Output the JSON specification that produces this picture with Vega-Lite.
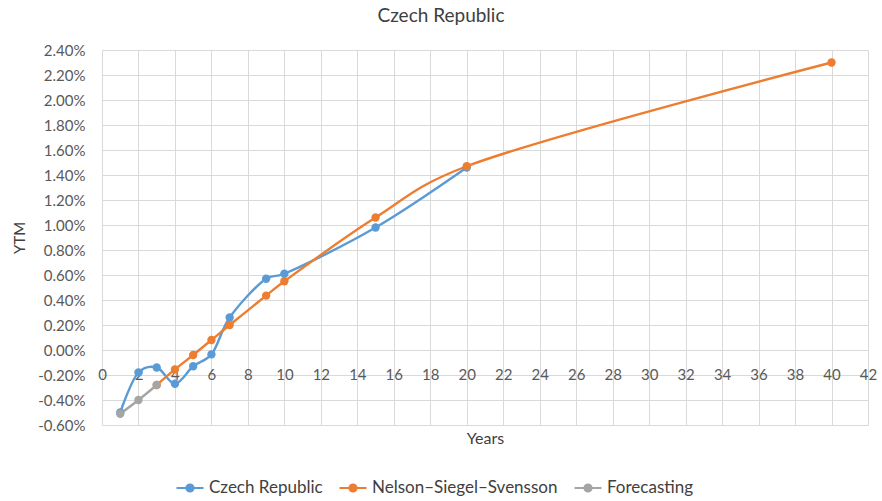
{
  "$schema": "https://vega.github.io/schema/vega-lite/v6.json",
  "width": 766,
  "height": 375,
  "autosize": "none",
  "padding": {"left": 102, "top": 50, "right": 14, "bottom": 76},
  "background": "white",
  "title": {"text": "Czech Republic", "anchor": "middle", "dx": -44, "offset": 17, "fontSize": 19, "fontWeight": "normal", "color": "#404040", "font": "Lato"},
  "config": {
    "view": {"stroke": null},
    "font": "Lato",
    "axis": {"labelFont": "Lato", "titleFont": "Lato", "labelColor": "#595959", "titleColor": "#404040", "gridColor": "#d9d9d9", "gridWidth": 1}
  },
  "data": {"values": [
    {"series": "Czech Republic", "years": 1, "ytm": -0.0050},
    {"series": "Czech Republic", "years": 2, "ytm": -0.0018},
    {"series": "Czech Republic", "years": 3, "ytm": -0.0014},
    {"series": "Czech Republic", "years": 4, "ytm": -0.0027},
    {"series": "Czech Republic", "years": 5, "ytm": -0.0013},
    {"series": "Czech Republic", "years": 6, "ytm": -0.00035},
    {"series": "Czech Republic", "years": 7, "ytm": 0.0026},
    {"series": "Czech Republic", "years": 9, "ytm": 0.0057},
    {"series": "Czech Republic", "years": 10, "ytm": 0.0061},
    {"series": "Czech Republic", "years": 15, "ytm": 0.0098},
    {"series": "Czech Republic", "years": 20, "ytm": 0.0146},
    {"series": "Nelson–Siegel–Svensson", "years": 3, "ytm": -0.0028},
    {"series": "Nelson–Siegel–Svensson", "years": 4, "ytm": -0.00155},
    {"series": "Nelson–Siegel–Svensson", "years": 5, "ytm": -0.0004},
    {"series": "Nelson–Siegel–Svensson", "years": 6, "ytm": 0.0008},
    {"series": "Nelson–Siegel–Svensson", "years": 7, "ytm": 0.0020},
    {"series": "Nelson–Siegel–Svensson", "years": 9, "ytm": 0.00435},
    {"series": "Nelson–Siegel–Svensson", "years": 10, "ytm": 0.0055},
    {"series": "Nelson–Siegel–Svensson", "years": 15, "ytm": 0.0106},
    {"series": "Nelson–Siegel–Svensson", "years": 20, "ytm": 0.0147},
    {"series": "Nelson–Siegel–Svensson", "years": 40, "ytm": 0.0230},
    {"series": "Forecasting", "years": 1, "ytm": -0.0051},
    {"series": "Forecasting", "years": 2, "ytm": -0.0040},
    {"series": "Forecasting", "years": 3, "ytm": -0.0028}
  ]},
  "encoding": {
    "x": {"field": "years", "type": "quantitative",
      "scale": {"domain": [0, 42], "nice": false},
      "axis": {"values": [0,2,4,6,8,10,12,14,16,18,20,22,24,26,28,30,32,34,36,38,40,42],
        "title": "Years", "offset": -75, "domain": false, "ticks": false, "tickSize": 0,
        "labelPadding": 17, "labelFontSize": 15, "labelFlush": false,
        "titleFontSize": 16, "titleFontWeight": "normal", "titleY": 80, "titleBaseline": "top"}},
    "y": {"field": "ytm", "type": "quantitative",
      "scale": {"domain": [-0.006, 0.024], "nice": false, "zero": false},
      "axis": {"values": [-0.006,-0.004,-0.002,0,0.002,0.004,0.006,0.008,0.010,0.012,0.014,0.016,0.018,0.020,0.022,0.024],
        "labelExpr": "(datum.value < 0 ? '-' : '') + format(abs(datum.value), '.2%')",
        "title": "YTM", "domain": false, "ticks": false, "tickSize": 0, "labelPadding": 17,
        "labelFontSize": 15, "titleFontSize": 15, "titleFontWeight": "normal", "titlePadding": 10}},
    "color": {"field": "series", "type": "nominal",
      "scale": {"domain": ["Czech Republic", "Nelson–Siegel–Svensson", "Forecasting"], "range": ["#5B9BD5", "#ED7D31", "#A5A5A5"]},
      "legend": {"title": null, "orient": "none", "direction": "horizontal", "legendX": 73, "legendY": 423,
        "labelFontSize": 17, "labelColor": "#404040", "labelFont": "Lato", "labelLimit": 300,
        "symbolType": "M-1,0L1,0M-0.26,0A0.26,0.26,0,1,0,0.26,0A0.26,0.26,0,1,0,-0.26,0Z",
        "symbolSize": 729, "symbolStrokeWidth": 2.2, "symbolOpacity": 1, "labelOffset": 4, "columnPadding": 12,
        "encode": {"symbols": {"update": {"fill": {"scale": "color", "field": "value"}, "stroke": {"scale": "color", "field": "value"}}}}}
    }
  },
  "layer": [
    {"mark": {"type": "line", "interpolate": "catmull-rom", "tension": 0.3, "strokeWidth": 2.4}},
    {"mark": {"type": "point", "filled": true, "size": 70, "opacity": 1}}
  ]
}
